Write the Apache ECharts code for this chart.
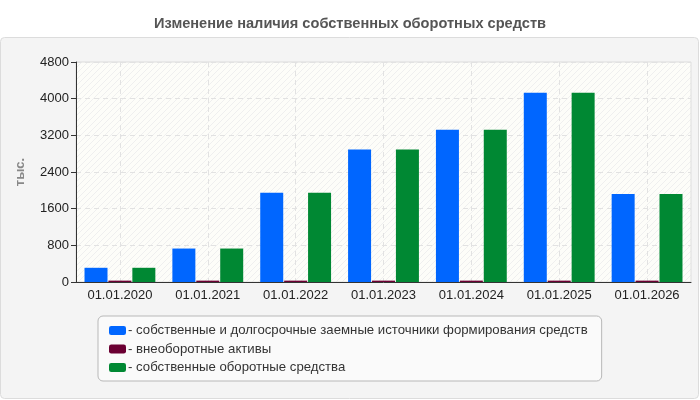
<!DOCTYPE html>
<html>
<head>
<meta charset="utf-8">
<script src="https://cdn.jsdelivr.net/npm/echarts@6/dist/echarts.min.js"></script>
<style>
  html, body { margin: 0; padding: 0; background: #fff; }
  #main { width: 700px; height: 400px; }
</style>
</head>
<body>
<div id="main"></div>
<script>
// даты на оси X
var dates = ['01.01.2020', '01.01.2021', '01.01.2022', '01.01.2023', '01.01.2024', '01.01.2025', '01.01.2026'];
// ряды, тыс.
var ownAndLongTerm = [310, 730, 1950, 2890, 3320, 4130, 1920];
var nonCurrentAssets = [30, 30, 30, 30, 30, 30, 30];
var ownWorkingCapital = [310, 730, 1950, 2890, 3320, 4130, 1920];
var seriesNames = [
    'собственные и долгосрочные заемные источники формирования средств',
    'внеоборотные активы',
    'собственные оборотные средства'
];

var font = 'Arial, "Liberation Sans", sans-serif';

// штриховка фона области графика
function hatch() {
    var c = document.createElement('canvas');
    c.width = 6; c.height = 6;
    var ctx = c.getContext('2d');
    ctx.fillStyle = '#fdfdf9';
    ctx.fillRect(0, 0, 6, 6);
    ctx.strokeStyle = '#efefef';
    ctx.lineWidth = 1;
    ctx.beginPath();
    ctx.moveTo(0, 6); ctx.lineTo(6, 0);
    ctx.moveTo(-3, 3); ctx.lineTo(3, -3);
    ctx.moveTo(3, 9); ctx.lineTo(9, 3);
    ctx.stroke();
    return c;
}

var myChart = echarts.init(document.getElementById('main'));
myChart.setOption({
    animation: false,
    title: {
        text: 'Изменение наличия собственных оборотных средств',
        left: 'center',
        top: 11,
        textStyle: { fontFamily: font, fontSize: 14.6, fontWeight: 'bold', color: '#555' }
    },
    graphic: [
        {
            type: 'rect',
            z: -10,
            shape: { x: 0.5, y: 37.5, width: 698, height: 361, r: 4 },
            style: { fill: '#f4f4f4', stroke: '#dcdcdc', lineWidth: 1 }
        }
    ],
    color: ['#0066ff', '#6b0033', '#008833'],
    grid: {
        left: 76,
        right: 9,
        top: 62,
        bottom: 118,
        show: true,
        backgroundColor: { image: hatch(), repeat: 'repeat' },
        borderColor: '#dddddd',
        borderWidth: 1
    },
    legend: {
        orient: 'vertical',
        left: 98,
        top: 316,
        padding: [8, 14, 7, 11],
        itemGap: 5.5,
        itemWidth: 17,
        itemHeight: 9,
        backgroundColor: '#fafafa',
        borderColor: '#b8b8b8',
        borderWidth: 1,
        borderRadius: 5,
        icon: 'roundRect',
        formatter: function (name) { return '- ' + name; },
        textStyle: { fontFamily: font, fontSize: 13.2, color: '#333', padding: [0, 0, 0, -3] },
        data: seriesNames
    },
    xAxis: {
        type: 'category',
        data: dates,
        axisLine: { lineStyle: { color: '#333' } },
        axisTick: { alignWithLabel: true, length: 5, lineStyle: { color: '#333' } },
        axisLabel: { fontFamily: font, fontSize: 13, color: '#222', margin: 7 },
        splitLine: { show: true, alignWithLabel: true, lineStyle: { color: '#e2e2e2', type: [5, 4] } }
    },
    yAxis: {
        type: 'value',
        min: 0,
        max: 4800,
        interval: 800,
        name: 'тыс.',
        nameLocation: 'middle',
        nameGap: 49,
        nameRotate: 90,
        nameTextStyle: { fontFamily: font, fontSize: 13, fontWeight: 'bold', color: '#888' },
        axisLine: { show: true, lineStyle: { color: '#333' } },
        axisTick: { show: true, length: 5, lineStyle: { color: '#333' } },
        axisLabel: { fontFamily: font, fontSize: 13, color: '#222', margin: 7, formatter: function (v) { return String(v); } },
        splitLine: { show: true, lineStyle: { color: '#e2e2e2', type: [5, 4] } }
    },
    series: [
        { name: seriesNames[0], type: 'bar', barWidth: 23, barGap: '4%', data: ownAndLongTerm },
        { name: seriesNames[1], type: 'bar', barWidth: 23, barGap: '4%', data: nonCurrentAssets },
        { name: seriesNames[2], type: 'bar', barWidth: 23, barGap: '4%', data: ownWorkingCapital }
    ]
});
</script>
</body>
</html>
